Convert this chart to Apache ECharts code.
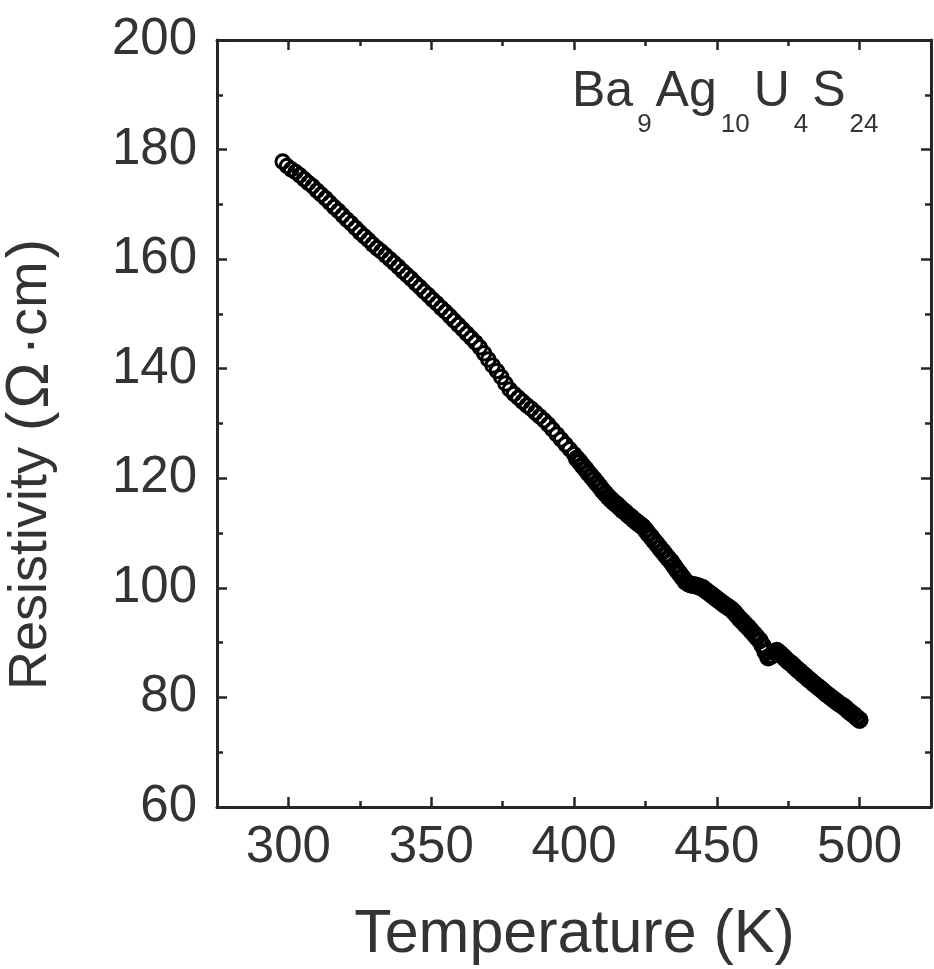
<!DOCTYPE html>
<html>
<head>
<meta charset="utf-8">
<script src="https://cdn.jsdelivr.net/npm/echarts@6/dist/echarts.min.js"></script>
<style>html,body{margin:0;padding:0;background:#fff}#c{width:934px;height:969px}</style>
</head>
<body>
<div id="c"></div>
<script>
// ---- data ----
const xMajorTicks = [300, 350, 400, 450, 500];
const xMinorTicks = [325, 375, 425, 475];
const yTickRange = [60, 200];

const tempLow = [298, 299.5, 301, 302.5, 304, 305.5, 307, 308.5, 310, 311.5, 313, 314.5, 316, 317.5, 319, 320.5, 322, 323.5, 325, 326.5,
  328, 329.5, 331, 332.5, 334, 335.5, 337, 338.5, 340, 341.5, 343, 344.5, 346, 347.5, 349, 350.5, 352, 353.5, 355, 356.5,
  358, 359.5, 361, 362.5, 364, 365.5, 367, 368.5, 370, 371.5, 373, 374.5, 376, 377.5, 379, 380.5, 382, 383.5, 385, 386.5,
  388, 389.5, 391, 392.5, 394, 395.5, 397, 398.5, 400];
const rhoLow = [177.8, 177.0, 176.4, 175.9, 175.3, 174.6, 173.9, 173.3, 172.5, 171.8, 171.1, 170.3, 169.5, 168.8, 168.0, 167.2, 166.5, 165.7, 164.9, 164.2,
  163.5, 162.7, 162.0, 161.4, 160.7, 160.0, 159.3, 158.6, 157.8, 157.1, 156.4, 155.6, 154.9, 154.1, 153.4, 152.6, 151.9, 151.1, 150.4, 149.6,
  148.8, 148.0, 147.2, 146.4, 145.6, 144.8, 143.9, 142.8, 141.7, 140.6, 139.6, 138.5, 137.3, 136.2, 135.4, 134.7, 134.0, 133.3, 132.7, 132.0,
  131.3, 130.6, 129.8, 128.9, 128.0, 127.1, 126.2, 125.3, 124.4];

const tempHigh = [401, 402, 403, 404, 405, 406, 407, 408, 409, 410, 411, 412, 413, 414, 415, 416, 417, 418, 419, 420,
  421, 422, 423, 424, 425, 426, 427, 428, 429, 430, 431, 432, 433, 434, 435, 436, 437, 438, 439, 440,
  441, 442, 443, 444, 445, 446, 447, 448, 449, 450, 451, 452, 453, 454, 455, 456, 457, 458, 459, 460,
  461, 462, 463, 464, 465, 466, 467, 468, 469, 470, 471, 472, 473, 474, 475, 476, 477, 478, 479, 480,
  481, 482, 483, 484, 485, 486, 487, 488, 489, 490, 491, 492, 493, 494, 495, 496, 497, 498, 499, 500];
const rhoHigh = [123.6, 123.0, 122.3, 121.7, 121.0, 120.4, 119.8, 119.1, 118.5, 117.8, 117.2, 116.6, 116.1, 115.6, 115.2, 114.7, 114.2, 113.8, 113.3, 112.9,
  112.4, 112.0, 111.6, 111.2, 110.6, 109.9, 109.3, 108.6, 108.0, 107.3, 106.7, 106.0, 105.4, 104.8, 104.0, 103.3, 102.6, 101.9, 101.2, 100.8,
  100.6, 100.5, 100.4, 100.2, 100.0, 99.6, 99.2, 98.8, 98.4, 98.0, 97.6, 97.2, 96.8, 96.5, 96.1, 95.6, 95.0, 94.4, 93.9, 93.3,
  92.8, 92.2, 91.6, 91.0, 90.4, 89.5, 88.3, 87.3, 87.6, 88.3, 88.5, 88.1, 87.6, 87.1, 86.6, 86.2, 85.7, 85.2, 84.8, 84.3,
  83.9, 83.4, 83.0, 82.5, 82.1, 81.7, 81.3, 80.8, 80.4, 80.0, 79.6, 79.2, 78.8, 78.5, 78.1, 77.6, 77.2, 76.8, 76.3, 75.9];

const formulaParts = [['Ba', '9'], ['Ag', '10'], ['U', '4'], ['S', '24']];
const xTitle = 'Temperature (K)';
const yTitleParts = ['Resistivity', '(', '\u03A9', '\u00B7', 'cm', ')'];

// ---- chart ----
const FONT = '"Liberation Sans", Arial, sans-serif';
const LINE = '#262626';
const TEXT = '#333';

function xAxisDef(pos, ticks, len, showLine, showLabel) {
  return {
    type: 'value', position: pos, min: 275, max: 525, interval: 25,
    splitLine: { show: false },
    axisLine: { show: showLine, lineStyle: { color: LINE, width: 3 } },
    axisTick: { show: true, inside: true, length: len, customValues: ticks, lineStyle: { color: LINE, width: 2.5 } },
    axisLabel: showLabel ? { show: true, customValues: xMajorTicks, fontSize: 51, margin: 15, color: TEXT, fontFamily: FONT } : { show: false }
  };
}
function yAxisDef(pos, showLabel) {
  return {
    type: 'value', position: pos, min: yTickRange[0], max: yTickRange[1], interval: 20,
    splitLine: { show: false },
    axisLine: { show: true, lineStyle: { color: LINE, width: 3 } },
    axisTick: { show: true, inside: true, length: 10, lineStyle: { color: LINE, width: 2.5 } },
    minorTick: { show: true, splitNumber: 2, length: 6, lineStyle: { color: LINE, width: 2.5 } },
    axisLabel: showLabel ? { show: true, fontSize: 51, margin: 20, color: TEXT, fontFamily: FONT } : { show: false }
  };
}

const richText = formulaParts.map(p => '{m|' + p[0] + '}{s|' + p[1] + '}').join('');
const yRich = '{a|' + yTitleParts[0] + '}{p|' + yTitleParts[1] + '}{o|' + yTitleParts[2] + '}{d|' + yTitleParts[3] +
  '}{c|' + yTitleParts[4] + '}{q|' + yTitleParts[5] + '}';

const chart = echarts.init(document.getElementById('c'), null, { renderer: 'canvas' });
chart.setOption({
  animation: false,
  backgroundColor: '#fff',
  grid: { left: 217, right: 3, top: 40, bottom: 162, containLabel: false },
  xAxis: [
    xAxisDef('bottom', xMajorTicks, 10, true, true),
    xAxisDef('bottom', xMinorTicks, 6, false, false),
    xAxisDef('top', xMajorTicks, 10, true, false),
    xAxisDef('top', xMinorTicks, 6, false, false)
  ],
  yAxis: [yAxisDef('left', true), yAxisDef('right', false)],
  series: [
    {
      type: 'scatter', xAxisIndex: 0, yAxisIndex: 0, silent: true,
      data: tempLow.map((t, i) => [t, rhoLow[i]]),
      symbol: 'circle', symbolSize: 13.5,
      itemStyle: { color: 'rgba(0,0,0,0)', borderColor: '#000', borderWidth: 3, opacity: 1 }
    },
    {
      type: 'scatter', xAxisIndex: 0, yAxisIndex: 0, silent: true,
      data: tempHigh.map((t, i) => [t, rhoHigh[i]]),
      symbol: 'circle', symbolSize: 14,
      itemStyle: { color: 'rgba(0,0,0,0)', borderColor: '#000', borderWidth: 4, opacity: 1 }
    }
  ],
  graphic: [
    {
      type: 'text', x: 31, y: 690, rotation: Math.PI / 2,
      style: {
        text: yRich, fill: TEXT, fontFamily: FONT, fontSize: 54, align: 'left', verticalAlign: 'middle',
        rich: {
          a: { fontSize: 54, fontFamily: FONT, fill: TEXT },
          p: { fontSize: 58, fontFamily: FONT, fill: TEXT, padding: [0, 0, 0, 16] },
          o: { fontSize: 62, fontFamily: FONT, fill: TEXT, padding: [0, 0, 0, 3] },
          d: { fontSize: 58, fontFamily: FONT, fill: TEXT, padding: [0, 0, 0, 7] },
          c: { fontSize: 56, fontFamily: FONT, fill: TEXT, padding: [0, 0, 0, 0] },
          q: { fontSize: 58, fontFamily: FONT, fill: TEXT, padding: [0, 0, 0, 3] }
        }
      }
    },
    {
      type: 'text', x: 574.5, y: 935,
      style: { text: xTitle, fontSize: 61, fontFamily: FONT, fill: TEXT, align: 'center', verticalAlign: 'middle' }
    },
    {
      type: 'text', x: 571, y: 67,
      style: {
        text: richText, fill: TEXT, fontFamily: FONT, align: 'left', verticalAlign: 'top',
        rich: {
          m: { fontSize: 50, lineHeight: 58, fontFamily: FONT, fill: TEXT, verticalAlign: 'top', padding: [0, 1, 0, 1] },
          s: { fontSize: 26, lineHeight: 30, fontFamily: FONT, fill: TEXT, verticalAlign: 'top', padding: [45, 3, 0, 3] }
        }
      }
    }
  ]
});
</script>
</body>
</html>
